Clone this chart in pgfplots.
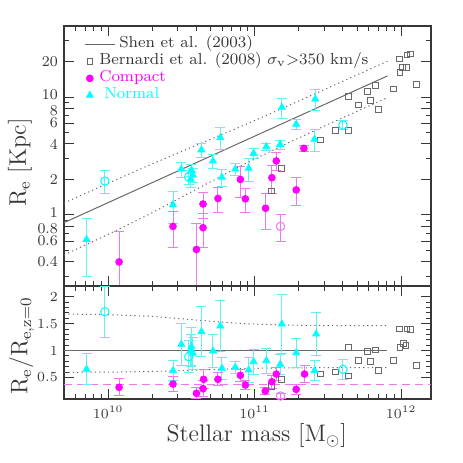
\documentclass[border=0pt]{standalone}
\usepackage{pgfplots}
\pgfplotsset{compat=1.18}

\definecolor{mag}{RGB}{255,0,255}
\definecolor{cyn}{RGB}{0,255,255}
\definecolor{magbar}{RGB}{238,120,238}
\definecolor{cynbar}{RGB}{100,240,240}
\definecolor{ink}{RGB}{55,55,55}
\definecolor{sq}{RGB}{105,105,105}

\newcommand{\up}[2]{\raisebox{#1}[\height][\depth]{#2}}

\pgfplotsset{
  panel/.style={
    scale only axis, width=183.5bp,
    xmin=9.699, xmax=12.204,
    axis line style={ink, line width=0.6bp},
    tick style={ink, line width=0.5bp},
    major tick length=5bp, minor tick length=2.5bp,
    tick align=inside, xtick pos=both, ytick pos=both,
    xtick={10,11,12},
    minor xtick={9.699,9.778,9.845,9.903,9.954,
      10.301,10.477,10.602,10.699,10.778,10.845,10.903,10.954,
      11.301,11.477,11.602,11.699,11.778,11.845,11.903,11.954},
    tick label style={font=\fontsize{7.5}{9}\selectfont, text=ink},
    yticklabel style={inner sep=0.3bp, xshift=-2.6bp},
    label style={font=\fontsize{12}{14}\selectfont, text=ink},
  },
  cbars/.style={only marks,
    error bars/y dir=both, error bars/y explicit,
    error bars/error bar style={cynbar, line width=0.5bp},
    error bars/error mark options={rotate=90, cynbar, line width=0.5bp, mark size=2.5bp}},
  mbars/.style={only marks,
    error bars/y dir=both, error bars/y explicit,
    error bars/error bar style={magbar, line width=0.5bp},
    error bars/error mark options={rotate=90, magbar, line width=0.5bp, mark size=2.5bp}},
  tri/.style={mark=triangle*, mark size=2bp, mark options={draw=cyn, fill=cyn}},
  ocyn/.style={mark=o, mark size=2.1bp, mark options={draw=cyn, line width=0.5bp}},
  dot/.style={mark=*, mark size=1.7bp, mark options={draw=mag, fill=mag}},
  omag/.style={mark=o, mark size=2.1bp, mark options={draw=magbar, line width=0.5bp}},
  box/.style={only marks, mark=square, mark size=1.4bp, mark options={draw=sq, line width=0.5bp}},
}

\begin{document}
\begin{tikzpicture}
\useasboundingbox (-32bp,-32bp) rectangle (199.5bp,199.5bp);

% upper panel: R_e
\begin{axis}[panel,
  at={(0,56.5bp)}, anchor=south west, height=130bp,
  ymode=log, ymin=0.25, ymax=40,
  xticklabels={},
  ytick={0.4,0.6,0.8,1,2,4,6,8,10,20},
  yticklabels={0.4,0.6,\up{-1.1bp}{0.8},\up{1.3bp}{1},2,4,6,\up{-1.1bp}{8},\up{1.3bp}{10},20},
  minor ytick={0.3,0.5,0.7,0.9,3,5,7,9,30},
  ylabel={R$_\mathrm{e}$ [Kpc]},
  ylabel style={at={(axis description cs:-0.12,0.475)}, anchor=center},
  legend style={draw=none, fill=none,
    at={(axis description cs:0.0436,0.979)}, anchor=north west,
    nodes={inner sep=0pt, text height=6bp, text depth=2.5bp,
      font=\fontsize{8}{9}\selectfont},
    column sep=3bp, row sep=0pt},
  legend cell align=left,
]
\addlegendimage{legend image code/.code={\draw[sq, line width=0.5bp, overlay] (-2.5bp,0bp) -- (12.5bp,0bp);}}
\addlegendentry{\hspace*{10bp}\textcolor{ink}{Shen et al. (2003)}}
\addlegendimage{legend image code/.code={\draw[sq, line width=0.5bp] plot[mark=square, mark size=1.4bp] coordinates {(0bp,0bp)};}}
\addlegendentry{\textcolor{ink}{Bernardi et al. (2008) $\sigma_\mathrm{v}$$>$350 km/s}}
\addlegendimage{legend image code/.code={\draw[mag] plot[mark=*, mark size=1.7bp, mark options={fill=mag}] coordinates {(0bp,0bp)};}}
\addlegendentry{\textcolor{mag}{Compact}}
\addlegendimage{legend image code/.code={\draw[cyn] plot[mark=triangle*, mark size=2bp, mark options={fill=cyn}] coordinates {(0bp,0bp)};}}
\addlegendentry{\hspace*{2.5bp}\textcolor{cyn}{Normal}}

% Shen et al. relation and scatter
\addplot[sq, line width=0.5bp, forget plot] coordinates {(9.699,0.861) (11.907,15.1)};
\addplot[sq, line width=0.5bp, dash pattern=on 0.6bp off 1.6bp, forget plot] coordinates {
  (9.699,1.264) (10.0,1.858) (10.3,2.708) (10.6,3.888) (10.9,5.577) (11.2,8.123) (11.5,11.93) (11.907,20.1)};
\addplot[sq, line width=0.5bp, dash pattern=on 0.6bp off 1.6bp, forget plot] coordinates {
  (9.699,0.458) (10.0,0.684) (10.3,1.043) (10.6,1.646) (10.9,2.589) (11.2,3.929) (11.5,5.850) (11.907,9.874)};

% Bernardi et al. (2008)
\addplot[box, forget plot] table[x=m, y=r] {
m r
11.641 10.07
11.772 11.1
11.825 12.5
11.711 8.56
11.791 9.3
11.845 7.87
11.950 11.7
11.988 21.0
12.041 22.7
12.063 23.2
11.993 16.1
12.011 17.7
12.038 17.7
12.106 12.8
11.552 5.18
11.641 5.18
11.450 4.32
11.182 2.47
11.114 1.60
};

% normal
\addplot[cbars, tri, forget plot] table[x=m, y=r, y error=e] {
m r e
9.853 0.62 0.32
10.443 1.22 0.37
10.500 2.45 0.36
10.569 2.40 0.30
10.579 2.18 0.30
10.564 2.01 0.30
10.637 3.56 0.50
10.716 2.87 0.37
10.766 4.52 0.95
10.777 2.09 0.35
10.868 2.45 0.30
10.959 2.49 0.55
10.993 3.33 0.30
11.080 3.79 0.25
11.175 3.97 0.35
11.186 8.18 1.55
11.284 5.87 0.55
11.414 9.62 1.90
11.409 4.38 0.90
};
\addplot[cbars, ocyn, forget plot] table[x=m, y=r, y error=e] {
m r e
9.978 1.94 0.43
10.550 2.10 0.30
11.603 5.79 0.50
};

% compact
\addplot[mbars, omag, forget plot] table[x=m, y=r, y error=e] {
m r e
11.177 0.80 0.20
};
\addplot[mbars, dot, forget plot] table[x=m, y=r, y error=e] {
m r e
10.075 0.40 0.32
10.443 0.80 0.27
10.603 0.51 0.33
10.648 0.78 0.25
10.648 1.24 0.30
10.750 1.38 0.33
10.903 2.00 0.60
10.937 1.37 0.32
11.075 1.14 0.39
11.118 2.07 0.55
11.148 2.87 0.50
11.284 1.63 0.43
11.336 3.67 0.25
};
\end{axis}

% lower panel: R_e / R_e,z=0
\begin{axis}[panel,
  at={(0,0)}, anchor=south west, height=56.5bp,
  ymin=0.1, ymax=2.2,
  ytick={0.5,1,1.5,2}, minor y tick num=4,
  xticklabels={$10^{10}$,$10^{11}$,$10^{12}$},
  xlabel={Stellar mass [M$_\odot$]},
  xlabel style={at={(axis description cs:0.525,0)}, yshift=-18.5bp, anchor=center},
  ylabel={R$_\mathrm{e}$/R$_\mathrm{e,z=0}$},
  ylabel style={at={(axis description cs:-0.115,0.47)}, anchor=center},
]
\addplot[sq, line width=0.5bp] coordinates {(9.699,1) (11.907,1)};
\addplot[sq, line width=0.5bp, dash pattern=on 0.6bp off 1.6bp] coordinates {
  (9.699,1.679) (10.0,1.669) (10.3,1.636) (10.6,1.568) (10.9,1.504) (11.2,1.474) (11.5,1.465) (11.907,1.462)};
\addplot[sq, line width=0.5bp, dash pattern=on 0.6bp off 1.6bp] coordinates {
  (9.699,0.596) (10.0,0.599) (10.3,0.611) (10.6,0.638) (10.9,0.665) (11.2,0.678) (11.5,0.683) (11.907,0.684)};
\addplot[magbar, line width=0.6bp, dash pattern=on 4bp off 2.5bp] coordinates {(9.699,0.375) (12.204,0.375)};

\addplot[box] table[x=m, y=v] {
m v
11.641 1.053
11.772 0.979
11.825 1.010
11.711 0.812
11.791 0.793
11.845 0.626
11.950 0.812
11.988 1.400
12.041 1.400
12.063 1.395
11.993 1.053
12.016 1.135
12.034 1.090
12.106 0.718
11.552 0.601
11.641 0.527
11.450 0.564
11.182 0.466
11.114 0.328
};

\addplot[cbars, tri] table[x=m, y=v, y error=e] {
m v e
9.853 0.652 0.29
10.443 0.626 0.19
10.500 1.116 0.39
10.569 1.072 0.35
10.579 0.949 0.30
10.564 1.000 0.30
10.637 1.351 0.46
10.716 0.992 0.30
10.766 1.457 0.47
10.777 0.670 0.20
10.868 0.689 0.11
10.959 0.639 0.24
10.993 0.793 0.23
11.080 0.812 0.23
11.175 0.745 0.19
11.186 1.494 0.54
11.284 0.961 0.27
11.420 1.308 0.40
11.409 0.626 0.19
};
\addplot[cbars, ocyn] table[x=m, y=v, y error=e] {
m v e
9.978 1.722 0.47
10.550 0.886 0.30
11.603 0.652 0.19
};

\addplot[mbars, omag] table[x=m, y=v, y error=e] {
m v e
11.177 0.155 0.05
};
\addplot[mbars, dot] table[x=m, y=v, y error=e] {
m v e
10.075 0.317 0.16
10.443 0.378 0.14
10.603 0.206 0.10
10.648 0.291 0.15
10.652 0.466 0.18
10.750 0.466 0.12
10.903 0.540 0.11
10.937 0.360 0.08
11.073 0.248 0.07
11.118 0.421 0.12
11.148 0.564 0.12
11.284 0.280 0.09
11.341 0.564 0.16
};
\end{axis}
\end{tikzpicture}
\end{document}
